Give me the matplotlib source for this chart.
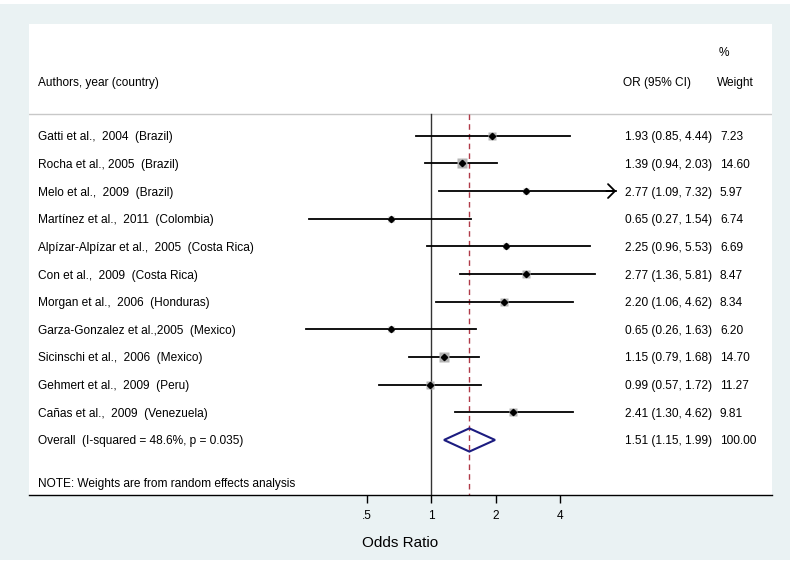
import numpy as np
import matplotlib.pyplot as plt
from matplotlib.patches import Rectangle, Polygon
import matplotlib.transforms as mtransforms

plt.rcParams['font.family'] = ['Liberation Sans', 'DejaVu Sans']

studies = ["Gatti et al.,  2004  (Brazil)",
           "Rocha et al., 2005  (Brazil)",
           "Melo et al.,  2009  (Brazil)",
           "Martínez et al.,  2011  (Colombia)",
           "Alpízar-Alpízar et al.,  2005  (Costa Rica)",
           "Con et al.,  2009  (Costa Rica)",
           "Morgan et al.,  2006  (Honduras)",
           "Garza-Gonzalez et al.,2005  (Mexico)",
           "Sicinschi et al.,  2006  (Mexico)",
           "Gehmert et al.,  2009  (Peru)",
           "Cañas et al.,  2009  (Venezuela)"]
odds = [1.93, 1.39, 2.77, 0.65, 2.25, 2.77, 2.20, 0.65, 1.15, 0.99, 2.41]
lower = [0.85, 0.94, 1.09, 0.27, 0.96, 1.36, 1.06, 0.26, 0.79, 0.57, 1.30]
upper = [4.44, 2.03, 7.32, 1.54, 5.53, 5.81, 4.62, 1.63, 1.68, 1.72, 4.62]
weights = [7.23, 14.60, 5.97, 6.74, 6.69, 8.47, 8.34, 6.20, 14.70, 11.27, 9.81]
arrow_rows = [2]

overall_label = "Overall  (I-squared = 48.6%, p = 0.035)"
overall_or, overall_lo, overall_hi = 1.51, 1.15, 1.99
xticks = [0.5, 1, 2, 4]
xticklabels = [".5", "1", "2", "4"]

W, H = 795, 565
fig = plt.figure(figsize=(W / 100, H / 100), dpi=100)
fig.patch.set_facecolor('white')
fig.patches.append(Rectangle((0, 5 / H), 790 / W, 556 / H, transform=fig.transFigure,
                             facecolor='#eaf2f3', edgecolor='none', zorder=-10))

left, right, top, bottom = 29, 772, 24, 495
ax = fig.add_axes([left / W, (H - bottom) / H, (right - left) / W, (bottom - top) / H])
ax.set_facecolor('white')
ax.set_xscale('log', base=2)
px_per_doubling = 64.5
x_one = 431
ax.set_xlim(2 ** ((left - x_one) / px_per_doubling), 2 ** ((right - x_one) / px_per_doubling))
ybot, ytop = 12.99, -4.04
ax.set_ylim(ybot, ytop)

for s in ['top', 'right', 'left']:
    ax.spines[s].set_visible(False)
ax.spines['bottom'].set_linewidth(1.0)
ax.set_yticks([])
ax.set_xticks(xticks)
ax.set_xticklabels(xticklabels, fontsize=8.6)
ax.minorticks_off()
ax.tick_params(axis='x', length=6, width=1, pad=5)
ax.set_xlabel("Odds Ratio", fontsize=11, labelpad=10)

fs = 8.6
sep_y = -0.78
ax.axhline(sep_y, color='#c8c8c8', lw=1)
ax.plot([1, 1], [sep_y, ybot], color='#333333', lw=1)
ax.plot([overall_or, overall_or], [sep_y, ybot], color='#b03a48', lw=1,
        dashes=(4, 3))

rows = np.arange(len(studies))
for i in rows:
    ax.plot([lower[i], upper[i]], [i, i], color='black', lw=1.3)
    if i in arrow_rows:
        ax.annotate('', xy=(upper[i], i), xytext=(upper[i] * 0.9, i),
                    arrowprops=dict(arrowstyle='->,head_length=0.5,head_width=0.5',
                                    color='black', lw=1.3, shrinkA=0, shrinkB=0,
                                    mutation_scale=10))
    ax.plot(odds[i], i, marker='s', ms=7.2 * np.sqrt(weights[i] / 14.65),
            color='#b4b4b4', mec='none', zorder=3)
    ax.plot(odds[i], i, marker='D', ms=3.2, color='black', zorder=4)

oy = len(studies)
dh = 0.42
ax.add_patch(Polygon([(overall_lo, oy), (overall_or, oy - dh), (overall_hi, oy),
                      (overall_or, oy + dh)], closed=True, facecolor='none',
                     edgecolor='#1c1c80', lw=1.5, zorder=5))

tr = mtransforms.blended_transform_factory(ax.transAxes, ax.transData)
def fx(px):
    return (px - left) / (right - left)

va = 'center_baseline'
ax.text(fx(38), -1.97, "Authors, year (country)", transform=tr, fontsize=fs, va=va)
ax.text(fx(623), -1.97, "OR (95% CI)", transform=tr, fontsize=fs, va=va)
ax.text(fx(719), -3.03, "%", transform=tr, fontsize=fs, va=va)
ax.text(fx(717), -1.97, "Weight", transform=tr, fontsize=fs, va=va)

for i in rows:
    ax.text(fx(38), i, studies[i], transform=tr, fontsize=fs, va=va)
    ax.text(fx(625), i, f"{odds[i]:.2f} ({lower[i]:.2f}, {upper[i]:.2f})",
            transform=tr, fontsize=fs, va=va)
    ax.text(fx(720), i, f"{weights[i]:.2f}", transform=tr, fontsize=fs, va=va)

ax.text(fx(38), oy, overall_label, transform=tr, fontsize=fs, va=va)
ax.text(fx(625), oy, f"{overall_or:.2f} ({overall_lo:.2f}, {overall_hi:.2f})",
        transform=tr, fontsize=fs, va=va)
ax.text(fx(720), oy, "100.00", transform=tr, fontsize=fs, va=va)
ax.text(fx(38), 12.55, "NOTE: Weights are from random effects analysis", transform=tr,
        fontsize=fs, va=va)

fig.savefig("out.png", dpi=100)
